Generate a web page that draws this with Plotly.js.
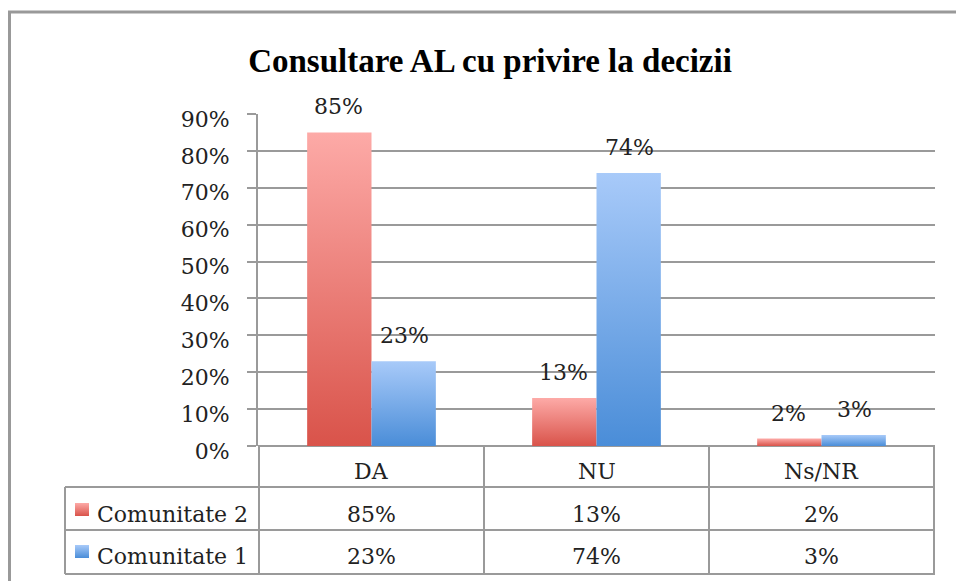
<!DOCTYPE html>
<html>
<head>
<meta charset="utf-8">
<script src="https://cdn.plot.ly/plotly-3.0.1.min.js"></script>
<style>
html,body{margin:0;padding:0;background:#fff;}
#chart{width:956px;height:581px;}
</style>
</head>
<body>
<div id="chart"></div>
<script>
// ---- data ----
const categories = ['DA', 'NU', 'Ns/NR'];
const seriesNames = ['Comunitate 2', 'Comunitate 1'];
const comunitate2 = [0.85, 0.13, 0.02];
const comunitate1 = [0.23, 0.74, 0.03];
const tickValues = [0, 0.1, 0.2, 0.3, 0.4, 0.5, 0.6, 0.7, 0.8, 0.9];
const tickLabels = ['0%', '10%', '20%', '30%', '40%', '50%', '60%', '70%', '80%', '90%'];
const chartTitle = 'Consultare AL cu privire la decizii';

// ---- styling ----
const W = 956, H = 581;
const colRed = '#ec7c75', colBlue = '#78abea';
const gridCol = '#9a9a9a';
const fontFam = '"DejaVu Serif", serif';
const txtFont = {family: fontFam, size: 22, color: '#222'};
const pct = v => Math.round(v * 100) + '%';
const py = y => 1 - y / H;   // pixel-from-top -> paper fraction
const px = x => x / W;

const xLeft = 258, xRight = 935, yTop = 114, yBase = 446, tableLeft = 65;
const rowLines = [487, 530, 574];
const rowTextY = [471, 514, 556];
const swatchY = [[503, 516], [545, 558]];

const traces = [
  {type: 'bar', name: seriesNames[0], x: categories, y: comunitate2,
   marker: {color: colRed}, hoverinfo: 'none'},
  {type: 'bar', name: seriesNames[1], x: categories, y: comunitate1,
   marker: {color: colBlue}, hoverinfo: 'none'}
];

const annotations = [];
const seriesVals = [comunitate2, comunitate1];
// data labels above bars
categories.forEach((c, i) => {
  seriesVals.forEach((vals, s) => {
    annotations.push({x: c, y: vals[i], xref: 'x', yref: 'y', text: pct(vals[i]),
      showarrow: false, yanchor: 'bottom', xshift: s === 0 ? -33 : 33, yshift: 11, font: txtFont});
  });
});
// data table: header row (categories)
categories.forEach(c => {
  annotations.push({x: c, y: py(rowTextY[0]), xref: 'x', yref: 'paper', text: c,
    showarrow: false, yanchor: 'middle', font: txtFont});
});
// data table: value rows
seriesVals.forEach((vals, s) => {
  annotations.push({x: px(95), y: py(rowTextY[s + 1]), xref: 'paper', yref: 'paper',
    text: seriesNames[s], showarrow: false, xanchor: 'left', yanchor: 'middle', font: txtFont});
  categories.forEach((c, i) => {
    annotations.push({x: c, y: py(rowTextY[s + 1]), xref: 'x', yref: 'paper', text: pct(vals[i]),
      showarrow: false, yanchor: 'middle', font: txtFont});
  });
});

const lineStyle = {color: gridCol, width: 2};
const shapes = [
  // outer chart frame
  {type: 'rect', xref: 'paper', yref: 'paper', x0: px(9.5), x1: 1.2, y0: -0.2, y1: py(12),
   line: {color: '#999', width: 3}, fillcolor: 'rgba(0,0,0,0)', layer: 'below'}
];
// table horizontal lines
rowLines.forEach(y => shapes.push({type: 'line', xref: 'paper', yref: 'paper',
  x0: px(tableLeft), x1: px(xRight), y0: py(y), y1: py(y), line: lineStyle}));
// table vertical lines at category boundaries
[-0.5, 0.5, 1.5, 2.5].forEach(x => shapes.push({type: 'line', xref: 'x', yref: 'paper',
  x0: x, x1: x, y0: py(574), y1: py(yBase), line: lineStyle}));
shapes.push({type: 'line', xref: 'paper', yref: 'paper', x0: px(tableLeft), x1: px(tableLeft),
  y0: py(574), y1: py(487), line: lineStyle});
// legend swatches
const swatchStart = shapes.length;
[colRed, colBlue].forEach((col, s) => shapes.push({type: 'rect', xref: 'paper', yref: 'paper',
  x0: px(75), x1: px(89), y0: py(swatchY[s][1]), y1: py(swatchY[s][0]),
  line: {width: 0}, fillcolor: col}));

const layout = {
  width: W, height: H,
  margin: {l: 0, r: 0, t: 0, b: 0},
  paper_bgcolor: '#fff', plot_bgcolor: '#fff',
  showlegend: false,
  barmode: 'group', bargap: 0.428, bargroupgap: 0,
  title: {text: '<b>' + chartTitle + '</b>', x: px(490), y: py(60),
    xref: 'paper', yref: 'paper', xanchor: 'center', yanchor: 'middle',
    font: {family: '"Liberation Serif", serif', size: 33, color: '#000'}},
  xaxis: {domain: [px(xLeft), px(xRight)], showticklabels: false, showgrid: false,
    zeroline: false, showline: false, ticks: '', fixedrange: true},
  yaxis: {domain: [py(yBase), py(yTop)], range: [0, 0.9],
    tickvals: tickValues, ticktext: tickLabels,
    showgrid: true, gridcolor: gridCol, gridwidth: 2,
    zeroline: true, zerolinecolor: gridCol, zerolinewidth: 2,
    showline: true, linecolor: gridCol, linewidth: 2,
    ticks: 'outside', ticklen: 9, tickwidth: 2, tickcolor: gridCol,
    ticklabelstandoff: 13, ticklabelshift: 5,
    tickfont: txtFont, fixedrange: true},
  annotations: annotations,
  shapes: shapes
};

Plotly.newPlot('chart', traces, layout, {staticPlot: true, displayModeBar: false}).then(gd => {
  const NS = 'http://www.w3.org/2000/svg';
  const svg = gd.querySelector('svg.main-svg');
  let defs = svg.querySelector('defs');
  if (!defs) { defs = document.createElementNS(NS, 'defs'); svg.insertBefore(defs, svg.firstChild); }
  const grads = [['gradRed', '#fdaaa7', '#d9534a'], ['gradBlue', '#a8caf9', '#4a8dd8']];
  grads.forEach(g => {
    const lg = document.createElementNS(NS, 'linearGradient');
    lg.setAttribute('id', g[0]);
    lg.setAttribute('x1', '0'); lg.setAttribute('y1', '0');
    lg.setAttribute('x2', '0'); lg.setAttribute('y2', '1');
    [[0, g[1]], [1, g[2]]].forEach(s => {
      const st = document.createElementNS(NS, 'stop');
      st.setAttribute('offset', s[0]); st.setAttribute('stop-color', s[1]);
      lg.appendChild(st);
    });
    defs.appendChild(lg);
  });
  gd.querySelectorAll('.barlayer .trace').forEach((t, i) => {
    t.querySelectorAll('path').forEach(p => { p.style.fill = 'url(#' + grads[i][0] + ')'; });
  });
  [0, 1].forEach(s => {
    const p = gd.querySelector('.shapelayer path[data-index="' + (swatchStart + s) + '"]');
    if (p) p.style.fill = 'url(#' + grads[s][0] + ')';
  });
});
</script>
</body>
</html>
